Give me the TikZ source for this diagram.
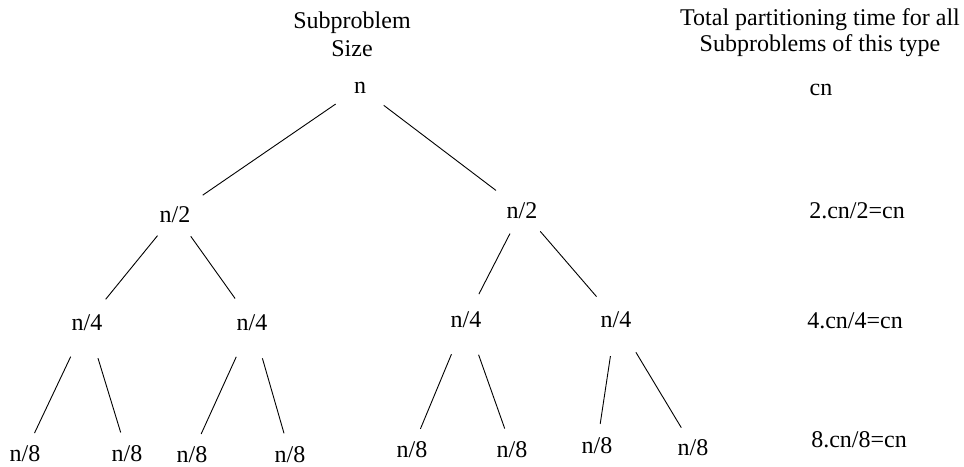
\documentclass[tikz,border=0pt]{standalone}
\usepackage{fontspec}
\setmainfont{Liberation Serif}
\begin{document}
\begin{tikzpicture}[
  x=1pt, y=-1pt,
  font=\fontsize{24}{26}\selectfont,
  every node/.style={inner sep=0pt},
  % Styles
  size/.style={anchor=base},
  header/.style={anchor=base, align=center},
  link/.style={line width=0.9pt, draw=black},
  toplink/.style={link, shorten <=22pt, shorten >=19pt},
  midlink/.style={link, shorten <=17pt, shorten >=19pt},
  lowlink/.style={link, shorten <=29pt, shorten >=13pt},
]
\useasboundingbox (0,0) rectangle (964,466);

% === Headers ===
\node[header, font=\fontsize{24}{28}\selectfont] (sizehdr) at (352,56) {Subproblem\\Size};
\node[header, font=\fontsize{24}{26}\selectfont] (timehdr) at (820,51) {Total partitioning time for all\\Subproblems of this type};

% === Tree ===
\node[size] (n) at (360,93) {n};

\node[size] (h1) at (175,222) {n/2};
\node[size] (h2) at (522,218) {n/2};

\node[size] (q1) at (87,330) {n/4};
\node[size] (q2) at (252,330) {n/4};
\node[size] (q3) at (466,327) {n/4};
\node[size] (q4) at (616,327) {n/4};

\node[size] (e1) at (25,461) {n/8};
\node[size] (e2) at (127,461) {n/8};
\node[size] (e3) at (192,462) {n/8};
\node[size] (e4) at (290,462) {n/8};
\node[size] (e5) at (412,457) {n/8};
\node[size] (e6) at (512,457) {n/8};
\node[size] (e7) at (597,453) {n/8};
\node[size] (e8) at (693,455) {n/8};

% === Totals per level ===
\node[size] (t0) at (821,95) {cn};
\node[size] (t1) at (857,218) {2.cn/2=cn};
\node[size] (t2) at (855,328) {4.cn/4=cn};
\node[size] (t3) at (859,447) {8.cn/8=cn};

% === Links ===
\draw[toplink] (n) -- (h1);
\draw[toplink] (n) -- (h2);
\draw[midlink] (h1) -- (q1);
\draw[midlink] (h1) -- (q2);
\draw[midlink] (h2) -- (q3);
\draw[midlink] (h2) -- (q4);
\draw[lowlink] (q1) -- (e1);
\draw[lowlink] (q1) -- (e2);
\draw[lowlink] (q2) -- (e3);
\draw[lowlink] (q2) -- (e4);
\draw[lowlink] (q3) -- (e5);
\draw[lowlink] (q3) -- (e6);
\draw[lowlink] (q4) -- (e7);
\draw[lowlink] (q4) -- (e8);

\end{tikzpicture}
\end{document}
